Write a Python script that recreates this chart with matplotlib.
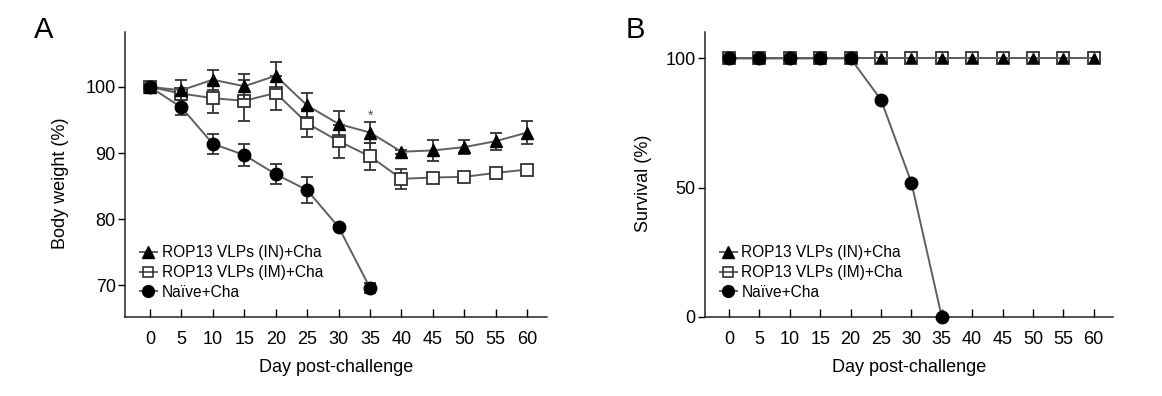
import matplotlib
matplotlib.use("Agg")
import matplotlib.pyplot as plt
from matplotlib.font_manager import findfont, FontProperties
from matplotlib.lines import Line2D

plt.rcParams['font.family'] = ['Liberation Sans', 'DejaVu Sans']

days = [0, 5, 10, 15, 20, 25, 30, 35, 40, 45, 50, 55, 60]
naive_days = [0, 5, 10, 15, 20, 25, 30, 35]

in_weight = [100, 99.5, 101.1, 100.1, 101.7, 97.2, 94.4, 93.1, 90.2, 90.4, 90.9, 91.8, 93.1]
in_err = [0, 1.5, 1.5, 1.9, 2.0, 1.9, 1.9, 1.6, 0.3, 1.6, 1.1, 1.3, 1.7]
im_weight = [100, 99.0, 98.3, 97.9, 99.1, 94.5, 91.8, 89.5, 86.1, 86.3, 86.4, 87.0, 87.5]
im_err = [0, 0.6, 2.2, 3.1, 2.6, 2.1, 2.5, 2.0, 1.5, 0.5, 0.5, 0.6, 0.5]
naive_weight = [100, 96.9, 91.4, 89.7, 86.8, 84.4, 78.8, 69.6]
naive_err = [0, 1.2, 1.5, 1.7, 1.5, 2.0, 0.3, 0.7]

in_surv = [100, 100, 100, 100, 100, 100, 100, 100, 100, 100, 100, 100, 100]
im_surv = [100, 100, 100, 100, 100, 100, 100, 100, 100, 100, 100, 100, 100]
naive_surv = [100, 100, 100, 100, 100, 84, 52, 0]

labels = ["ROP13 VLPs (IN)+Cha", "ROP13 VLPs (IM)+Cha", "Naïve+Cha"]

FS = 13
LINE = '#5f5f5f'
ERR = '#333333'

narrow = 'Liberation Sans Narrow'
try:
    findfont(FontProperties(family=narrow), fallback_to_default=False)
    LEG_FAMILY = [narrow, 'DejaVu Sans']
    LEG_FS = 13.0
except Exception:
    LEG_FAMILY = ['Liberation Sans', 'DejaVu Sans']
    LEG_FS = 11.2

fig = plt.figure(figsize=(11.62, 3.96), dpi=100)
axA = fig.add_axes([0.108, 0.1995, 0.363, 0.7195])
axB = fig.add_axes([0.607, 0.1995, 0.351, 0.7195])


def style(ax):
    for s in ['top', 'right']:
        ax.spines[s].set_visible(False)
    for s in ['left', 'bottom']:
        ax.spines[s].set_linewidth(1.1)
        ax.spines[s].set_color('#222222')
    ax.set_xlim(-3.9, 63.2)
    ax.set_xticks(days)
    ax.tick_params(axis='x', direction='in', length=6, width=1.0, pad=10, labelsize=FS)
    ax.tick_params(axis='y', direction='out', length=5, width=1.0, pad=2, labelsize=FS)
    ax.set_xlabel("Day post-challenge", fontsize=FS, labelpad=8)


def legend(ax, handles):
    ax.legend(handles=handles, labels=labels, loc='lower left', bbox_to_anchor=(0.012, 0.028),
              frameon=False, prop={'family': LEG_FAMILY, 'size': LEG_FS}, handlelength=1.1,
              handletextpad=0.3, labelspacing=0.3, borderaxespad=0.2)


def leg_handles():
    return [Line2D([], [], color=LINE, lw=1.4, marker='^', ms=8, mfc='black', mec='black'),
            Line2D([], [], color=LINE, lw=1.4, marker='s', ms=7.5, mfc='none',
                   mec='#333333', mew=1.2),
            Line2D([], [], color=LINE, lw=1.4, marker='o', ms=8.5, mfc='black', mec='black')]


# Panel A
axA.errorbar(days, in_weight, yerr=in_err, color=LINE, lw=1.4, marker='^', ms=8.5,
             mfc='black', mec='black', ecolor=ERR, elinewidth=1.3, capsize=4.5,
             capthick=1.3, zorder=3)
axA.errorbar(days, im_weight, yerr=im_err, color=LINE, lw=1.4, marker='s', ms=8.5,
             mfc='white', mec='#333333', mew=1.3, ecolor=ERR, elinewidth=1.3,
             capsize=4.5, capthick=1.3, zorder=2)
axA.errorbar(naive_days, naive_weight, yerr=naive_err, color=LINE, lw=1.4, marker='o',
             ms=9, mfc='black', mec='black', ecolor=ERR, elinewidth=1.3, capsize=4.5,
             capthick=1.3, zorder=4)
axA.text(35, 95.6, '*', ha='center', va='center', fontsize=10, color='#555555')
axA.set_ylim(65.2, 108.3)
axA.set_yticks([70, 80, 90, 100])
style(axA)
axA.set_ylabel("Body weight (%)", fontsize=FS)
axA.yaxis.set_label_coords(-0.133, 0.47)
legend(axA, leg_handles())

# Panel B
axB.plot(days, im_surv, color=LINE, lw=1.4, marker='s', ms=8.5, mfc='white',
         mec='#333333', mew=1.3, zorder=2, clip_on=False)
axB.plot(days, in_surv, color=LINE, lw=1.4, marker='^', ms=6.5, mfc='black',
         mec='black', zorder=3, clip_on=False)
axB.plot(naive_days, naive_surv, color=LINE, lw=1.4, marker='o', ms=9, mfc='black',
         mec='black', zorder=4, clip_on=False)
axB.set_ylim(0, 110.2)
axB.set_yticks([0, 50, 100])
style(axB)
axB.set_ylabel("Survival (%)", fontsize=FS)
axB.yaxis.set_label_coords(-0.131, 0.47)
legend(axB, leg_handles())

fig.text(0.029, 0.89, 'A', fontsize=21, ha='left', va='bottom')
fig.text(0.538, 0.89, 'B', fontsize=21, ha='left', va='bottom')

fig.savefig('out.png', dpi=100)
